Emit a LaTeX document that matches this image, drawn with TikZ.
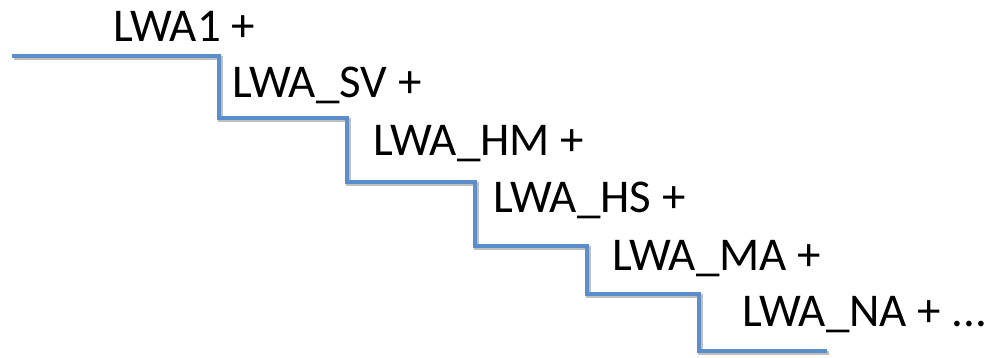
\documentclass[tikz,border=0pt]{standalone}
\usepackage{fontspec}
\setmainfont{Carlito}
\definecolor{stairblue}{HTML}{5B8FC9}
\begin{document}
\begin{tikzpicture}[x=1pt,y=-1pt,
  lbl/.style={anchor=base west,inner sep=0pt,font=\fontsize{47}{52}\selectfont},
  stair/.style={draw=stairblue,line width=4.5pt,line join=miter},
  shade/.style={draw=black!25,line width=4.5pt,line join=miter}]
\useasboundingbox (0,0) rectangle (992,357);
\draw[shade,xshift=1.5pt,yshift=-2pt] (12,56) -- (219,56) -- (219,118) -- (347,118) -- (347,182) -- (475,182) -- (475,246) -- (587,246) -- (587,294) -- (699,294) -- (699,351) -- (827,351);
\draw[stair] (12,56) -- (219,56) -- (219,118) -- (347,118) -- (347,182) -- (475,182) -- (475,246) -- (587,246) -- (587,294) -- (699,294) -- (699,351) -- (827,351);
\node[lbl] (t1) at (113,41) {LWA1 +};
\node[lbl] (t2) at (232,97) {LWA\_SV +};
\node[lbl] (t3) at (373,155) {LWA\_HM +};
\node[lbl] (t4) at (493,212) {LWA\_HS +};
\node[lbl] (t5) at (612,270) {LWA\_MA +};
\node[lbl] (t6) at (742,326) {LWA\_NA + ...};
\end{tikzpicture}
\end{document}
